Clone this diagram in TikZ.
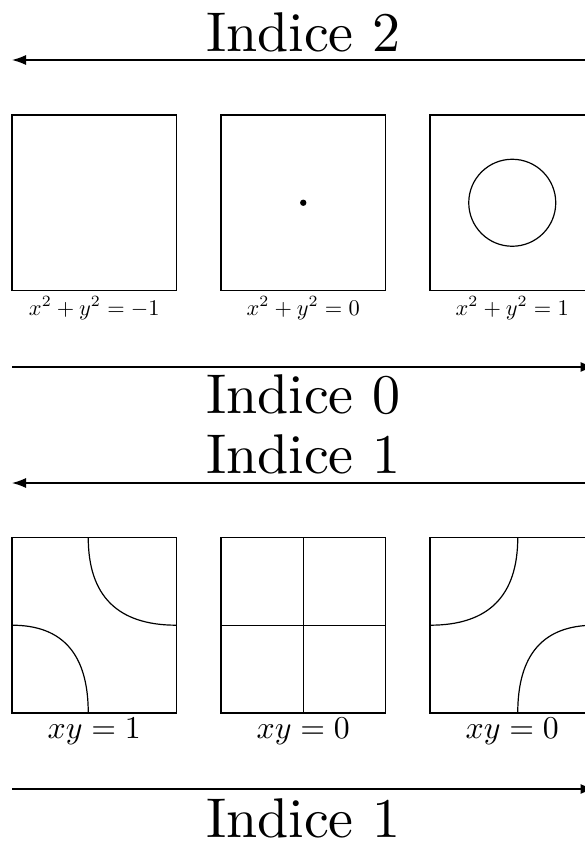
\documentclass[tikz,border=0pt]{standalone}
\usetikzlibrary{arrows.meta,calc}
\begin{document}
\begin{tikzpicture}[x=1pt,y=-1pt,
  panel/.style={draw, line width=1.2pt, minimum width=164.5pt, minimum height=175.5pt, inner sep=0pt, outer sep=0pt},
  curve/.style={line width=1.2pt},
  axis/.style={line width=1.2pt, -{Latex[length=14pt,width=10pt]}},
  title/.style={anchor=base, inner sep=0pt, scale=5.6},
  labone/.style={anchor=base, inner sep=0pt, scale=2.24},
  labtwo/.style={anchor=base, inner sep=0pt, scale=3.18}]
\useasboundingbox (0,0) rectangle (585,843);
\clip (0,0) rectangle (585,843);

% titles
\node[title] (t2) at (303.25,51.7) {Indice 2};
\node[title] (t0) at (303.25,413) {Indice 0};
\node[title] (t1a) at (303.25,473) {Indice 1};
\node[title] (t1b) at (303.25,837) {Indice 1};

% arrows
\coordinate (a1r) at (594.5,60);   \coordinate (a1l) at (12,60);
\coordinate (a2l) at (12,367);     \coordinate (a2r) at (594.5,367);
\coordinate (a3r) at (594.5,483);  \coordinate (a3l) at (12,483);
\coordinate (a4l) at (12,789);     \coordinate (a4r) at (594.5,789);
\draw[axis] (a1r) -- (a1l);
\draw[axis] (a2l) -- (a2r);
\draw[axis] (a3r) -- (a3l);
\draw[axis] (a4l) -- (a4r);

% row 1
\node[panel] (b1) at (94.25,202.75) {};
\node[panel] (b2) at (303.25,202.75) {};
\node[panel] (b3) at (512.25,202.75) {};
\fill (b2.center) circle (3.2pt);
\draw[curve] (b3.center) circle (43.5pt);
\node[labone] (l1) at (94.25,315) {$x^2+y^2=-1$};
\node[labone] (l2) at (303.25,315) {$x^2+y^2=0$};
\node[labone] (l3) at (512.25,315) {$x^2+y^2=1$};

% row 2
\node[panel] (b4) at (94.25,625.2) {};
\node[panel] (b5) at (303.25,625.2) {};
\node[panel] (b6) at (512.25,625.2) {};

% box 4: xy=1
\coordinate (c4) at ($(b4.center)+(-6,0)$);
\coordinate (n4) at ($(b4.north)+(-6,0)$);
\coordinate (s4) at ($(b4.south)+(-6,0)$);
\draw[curve] (n4) .. controls ($(n4)!0.667!(c4)$) and ($(b4.east)!0.667!(c4)$) .. (b4.east);
\draw[curve] (b4.west) .. controls ($(b4.west)!0.667!(c4)$) and ($(s4)!0.667!(c4)$) .. (s4);

% box 5: xy=0
\draw[curve] (b5.north) -- (b5.south);
\draw[curve] (b5.west) -- (b5.east);

% box 6
\coordinate (c6) at ($(b6.center)+(5.5,0)$);
\coordinate (n6) at ($(b6.north)+(5.5,0)$);
\coordinate (s6) at ($(b6.south)+(5.5,0)$);
\draw[curve] (b6.west) .. controls ($(b6.west)!0.667!(c6)$) and ($(n6)!0.667!(c6)$) .. (n6);
\draw[curve] (s6) .. controls ($(s6)!0.667!(c6)$) and ($(b6.east)!0.667!(c6)$) .. (b6.east);

\node[labtwo] (l4) at (94.25,738) {$xy=1$};
\node[labtwo] (l5) at (303.25,738) {$xy=0$};
\node[labtwo] (l6) at (512.25,738) {$xy=0$};
\end{tikzpicture}
\end{document}
